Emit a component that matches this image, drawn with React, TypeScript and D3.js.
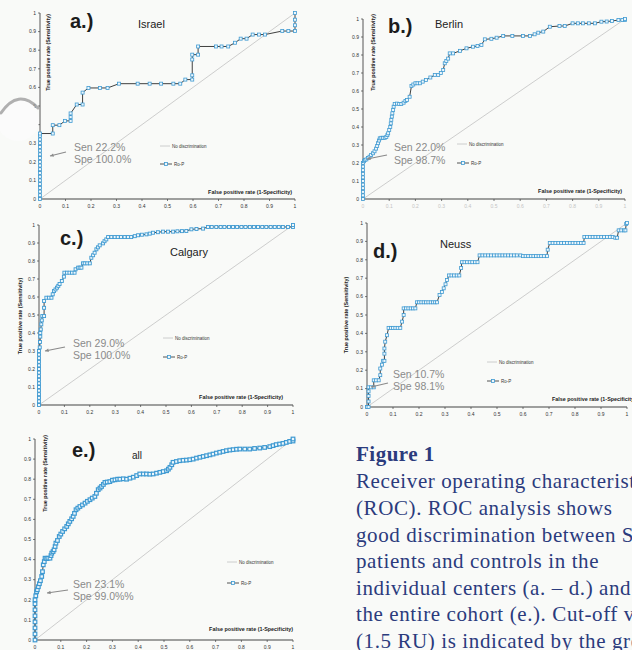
import React from "react";
import * as d3 from "d3";

// ---------- data ----------
const axisTicks = [0, 0.1, 0.2, 0.3, 0.4, 0.5, 0.6, 0.7, 0.8, 0.9, 1];
const axisTickLabels = ["0", "0.1", "0.2", "0.3", "0.4", "0.5", "0.6", "0.7", "0.8", "0.9", "1"];

const israelRoc: [number, number][] = [
  [0, 0], [0, 0.02], [0, 0.04], [0, 0.06], [0, 0.08], [0, 0.1], [0, 0.12], [0, 0.14], [0, 0.16], [0, 0.18],
  [0, 0.2], [0, 0.22], [0, 0.24], [0, 0.26], [0, 0.28], [0, 0.3], [0, 0.32], [0, 0.34], [0, 0.352],
  [0.05, 0.352], [0.05, 0.397], [0.076, 0.397], [0.098, 0.42], [0.12, 0.42], [0.12, 0.44], [0.12, 0.46],
  [0.144, 0.508], [0.167, 0.508], [0.167, 0.572], [0.19, 0.597], [0.235, 0.597], [0.265, 0.597], [0.31, 0.62],
  [0.383, 0.62], [0.43, 0.62], [0.475, 0.62], [0.523, 0.62], [0.55, 0.62], [0.57, 0.642], [0.597, 0.642],
  [0.597, 0.665], [0.597, 0.75], [0.597, 0.776], [0.62, 0.776], [0.62, 0.82], [0.69, 0.82], [0.712, 0.82],
  [0.738, 0.82], [0.765, 0.84], [0.787, 0.862], [0.81, 0.862], [0.834, 0.884], [0.859, 0.884], [0.882, 0.884],
  [0.95, 0.903], [0.974, 0.903], [1, 0.903], [1, 0.934], [1, 0.964], [1, 1],
];

const berlinRoc: [number, number][] = [
  [0, 0], [0, 0.02], [0, 0.04], [0, 0.06], [0, 0.08], [0, 0.1], [0, 0.12], [0, 0.14], [0, 0.16], [0, 0.18],
  [0, 0.2], [0.004, 0.21], [0.008, 0.217], [0.013, 0.22], [0.019, 0.228], [0.025, 0.235], [0.031, 0.245],
  [0.038, 0.254], [0.044, 0.265], [0.05, 0.28], [0.054, 0.295], [0.057, 0.31], [0.061, 0.325], [0.064, 0.337],
  [0.07, 0.34], [0.076, 0.34], [0.083, 0.34], [0.089, 0.345], [0.093, 0.355], [0.096, 0.365], [0.1, 0.383],
  [0.104, 0.4], [0.106, 0.42], [0.108, 0.44], [0.11, 0.458], [0.112, 0.476], [0.115, 0.495], [0.117, 0.513],
  [0.121, 0.528], [0.13, 0.53], [0.138, 0.528], [0.146, 0.528], [0.155, 0.535], [0.162, 0.545], [0.168, 0.55],
  [0.178, 0.568], [0.185, 0.628], [0.192, 0.636], [0.2, 0.643], [0.208, 0.643], [0.217, 0.643], [0.228, 0.652],
  [0.24, 0.661], [0.257, 0.675], [0.274, 0.689], [0.287, 0.689], [0.297, 0.7], [0.306, 0.717], [0.312, 0.754],
  [0.318, 0.767], [0.325, 0.78], [0.331, 0.809], [0.344, 0.809], [0.37, 0.823], [0.395, 0.837], [0.42, 0.846],
  [0.437, 0.85], [0.452, 0.856], [0.465, 0.887], [0.49, 0.89], [0.51, 0.896], [0.535, 0.906], [0.57, 0.906],
  [0.611, 0.906], [0.637, 0.906], [0.655, 0.915], [0.669, 0.924], [0.688, 0.93], [0.713, 0.957], [0.75, 0.961],
  [0.77, 0.961], [0.8, 0.976], [0.82, 0.976], [0.84, 0.976], [0.862, 0.976], [0.885, 0.976], [0.91, 0.985],
  [0.93, 0.986], [0.95, 0.989], [0.975, 0.994], [0.99, 0.994], [1, 0.994], [1, 1],
];

const calgaryRoc: [number, number][] = [
  [0, 0], [0, 0.02], [0, 0.04], [0, 0.06], [0, 0.08], [0, 0.1], [0, 0.12], [0, 0.14], [0, 0.16], [0, 0.18],
  [0, 0.2], [0, 0.22], [0, 0.24], [0, 0.26], [0, 0.28], [0, 0.3], [0.003, 0.32], [0.004, 0.35], [0.005, 0.38],
  [0.005, 0.4], [0.007, 0.42], [0.009, 0.448], [0.011, 0.47], [0.013, 0.494], [0.02, 0.494], [0.02, 0.54],
  [0.02, 0.578], [0.029, 0.596], [0.039, 0.596], [0.049, 0.596], [0.054, 0.615], [0.059, 0.633], [0.065, 0.642],
  [0.071, 0.652], [0.076, 0.662], [0.081, 0.672], [0.09, 0.689], [0.098, 0.713], [0.1, 0.735], [0.11, 0.735],
  [0.12, 0.735], [0.13, 0.735], [0.14, 0.735], [0.144, 0.754], [0.154, 0.763], [0.16, 0.763], [0.167, 0.763],
  [0.173, 0.787], [0.18, 0.787], [0.19, 0.787], [0.2, 0.787], [0.206, 0.818], [0.213, 0.832], [0.219, 0.846],
  [0.226, 0.865], [0.232, 0.876], [0.239, 0.887], [0.252, 0.898], [0.258, 0.91], [0.265, 0.92], [0.272, 0.933],
  [0.285, 0.933], [0.298, 0.933], [0.31, 0.933], [0.323, 0.933], [0.337, 0.933], [0.35, 0.933], [0.363, 0.933],
  [0.377, 0.938], [0.39, 0.943], [0.405, 0.946], [0.423, 0.948], [0.436, 0.952], [0.449, 0.957], [0.468, 0.96],
  [0.488, 0.963], [0.508, 0.963], [0.528, 0.963], [0.545, 0.965], [0.563, 0.966], [0.58, 0.967], [0.6, 0.976],
  [0.62, 0.978], [0.646, 0.98], [0.665, 0.989], [0.68, 0.989], [0.698, 0.989], [0.715, 0.989], [0.73, 0.989],
  [0.748, 0.989], [0.764, 0.989], [0.78, 0.989], [0.797, 0.989], [0.813, 0.989], [0.83, 0.989], [0.846, 0.989],
  [0.862, 0.989], [0.879, 0.989], [0.895, 0.989], [0.912, 0.989], [0.928, 0.989], [0.944, 0.989], [0.96, 0.989],
  [0.98, 0.989], [1, 0.989], [1, 1],
];

const neussRoc: [number, number][] = [
  [0, 0], [0.006, 0], [0.006, 0.03], [0.006, 0.06], [0.006, 0.085], [0.006, 0.107], [0.015, 0.107], [0.026, 0.107],
  [0.026, 0.145], [0.035, 0.145], [0.045, 0.145], [0.051, 0.173], [0.051, 0.209], [0.058, 0.23], [0.062, 0.251],
  [0.067, 0.251], [0.067, 0.29], [0.067, 0.318], [0.07, 0.355], [0.077, 0.39], [0.083, 0.43], [0.092, 0.43],
  [0.1, 0.43], [0.109, 0.43], [0.118, 0.43], [0.128, 0.43], [0.135, 0.464], [0.141, 0.5], [0.141, 0.536],
  [0.15, 0.536], [0.159, 0.536], [0.168, 0.536], [0.177, 0.536], [0.186, 0.536], [0.192, 0.569], [0.2, 0.569],
  [0.209, 0.569], [0.218, 0.569], [0.227, 0.569], [0.236, 0.569], [0.245, 0.569], [0.254, 0.569], [0.262, 0.569],
  [0.269, 0.569], [0.279, 0.609], [0.288, 0.625], [0.295, 0.645], [0.302, 0.667], [0.308, 0.69], [0.315, 0.715],
  [0.325, 0.715], [0.335, 0.715], [0.345, 0.715], [0.355, 0.715], [0.362, 0.755], [0.365, 0.787], [0.375, 0.787],
  [0.385, 0.787], [0.395, 0.787], [0.405, 0.787], [0.415, 0.787], [0.425, 0.787], [0.433, 0.824], [0.444, 0.824],
  [0.455, 0.824], [0.466, 0.824], [0.477, 0.824], [0.488, 0.824], [0.499, 0.824], [0.51, 0.824], [0.521, 0.824],
  [0.532, 0.824], [0.543, 0.824], [0.554, 0.824], [0.565, 0.824], [0.576, 0.824], [0.59, 0.824], [0.6, 0.82],
  [0.61, 0.82], [0.62, 0.82], [0.63, 0.82], [0.64, 0.82], [0.65, 0.82], [0.66, 0.82], [0.67, 0.82], [0.68, 0.82],
  [0.692, 0.82], [0.695, 0.855], [0.703, 0.891], [0.714, 0.891], [0.725, 0.891], [0.736, 0.891], [0.747, 0.891],
  [0.758, 0.891], [0.769, 0.891], [0.78, 0.891], [0.791, 0.891], [0.802, 0.891], [0.813, 0.891], [0.823, 0.891],
  [0.833, 0.891], [0.836, 0.924], [0.846, 0.924], [0.857, 0.924], [0.868, 0.924], [0.879, 0.924], [0.89, 0.924],
  [0.901, 0.924], [0.912, 0.924], [0.923, 0.924], [0.934, 0.924], [0.945, 0.924], [0.955, 0.92], [0.962, 0.92],
  [0.968, 0.96], [0.978, 0.96], [0.988, 0.96], [0.994, 0.96], [0.997, 0.995], [1, 1],
];

const allRoc: [number, number][] = [
  [0, 0], [0, 0.03], [0, 0.06], [0, 0.09], [0, 0.12], [0, 0.15], [0, 0.18], [0, 0.2], [0.003, 0.22], [0.006, 0.24],
  [0.009, 0.25], [0.013, 0.265], [0.017, 0.28], [0.021, 0.295], [0.026, 0.316], [0.029, 0.34], [0.032, 0.374],
  [0.036, 0.39], [0.039, 0.407], [0.045, 0.405], [0.05, 0.407], [0.058, 0.407], [0.062, 0.42], [0.065, 0.432],
  [0.07, 0.44], [0.074, 0.449], [0.078, 0.465], [0.081, 0.482], [0.087, 0.495], [0.094, 0.515], [0.1, 0.527],
  [0.107, 0.54], [0.115, 0.553], [0.123, 0.565], [0.129, 0.578], [0.135, 0.59], [0.142, 0.603], [0.148, 0.615],
  [0.153, 0.63], [0.159, 0.648], [0.166, 0.656], [0.174, 0.664], [0.184, 0.672], [0.194, 0.681], [0.203, 0.69],
  [0.213, 0.698], [0.222, 0.706], [0.232, 0.714], [0.238, 0.73], [0.245, 0.748], [0.252, 0.756], [0.258, 0.764],
  [0.265, 0.774], [0.271, 0.784], [0.28, 0.786], [0.29, 0.788], [0.3, 0.795], [0.31, 0.797], [0.32, 0.8],
  [0.329, 0.8], [0.342, 0.802], [0.355, 0.8], [0.368, 0.805], [0.381, 0.81], [0.394, 0.818], [0.406, 0.826],
  [0.42, 0.826], [0.432, 0.826], [0.445, 0.825], [0.458, 0.826], [0.471, 0.83], [0.484, 0.834], [0.497, 0.838],
  [0.51, 0.842], [0.517, 0.85], [0.523, 0.859], [0.53, 0.872], [0.535, 0.884], [0.548, 0.888], [0.561, 0.892],
  [0.574, 0.894], [0.587, 0.895], [0.6, 0.897], [0.613, 0.9], [0.626, 0.905], [0.639, 0.909], [0.652, 0.913],
  [0.665, 0.917], [0.678, 0.921], [0.69, 0.925], [0.703, 0.93], [0.716, 0.934], [0.729, 0.938], [0.742, 0.942],
  [0.755, 0.945], [0.768, 0.947], [0.781, 0.949], [0.794, 0.95], [0.813, 0.95], [0.832, 0.95], [0.851, 0.953],
  [0.871, 0.955], [0.89, 0.958], [0.91, 0.962], [0.923, 0.967], [0.935, 0.972], [0.948, 0.975], [0.961, 0.978],
  [0.974, 0.983], [0.987, 0.988], [1, 0.99], [1, 1],
];

const panelSeries = [israelRoc, berlinRoc, calgaryRoc, neussRoc, allRoc];
const panelLetters = ["a.)", "b.)", "c.)", "d.)", "e.)"];
const centerNames = ["Israel", "Berlin", "Calgary", "Neuss", "all"];
const sensitivityLabels = ["Sen 22.2%", "Sen 22.0%", "Sen 29.0%", "Sen 10.7%", "Sen 23.1%"];
const specificityLabels = ["Spe 100.0%", "Spe 98.7%", "Spe 100.0%", "Spe 98.1%", "Spe 99.0%%"];
const legendLabels = ["No discrimination", "Ro-P"];
const xAxisTitle = "False positive rate (1-Specificity)";
const yAxisTitle = "True positive rate (Sensitivity)";

const captionTitle = "Figure 1";
const captionLines = [
  "Receiver operating characteristic",
  "(ROC). ROC analysis shows",
  "good discrimination between SSc",
  "patients and controls in the",
  "individual centers (a. \u2013 d.) and",
  "the entire cohort (e.). Cut-off value",
  "(1.5 RU) is indicated by the grey",
];

// ---------- layout (positions / styles only) ----------
type Layout = {
  x0: number; x1: number; yTop: number; yBot: number;
  letter: [number, number]; name: [number, number]; nameSize: number;
  sen: [number, number]; spe: [number, number];
  arrow: [number, number, number, number];
  leg: [number, number, number];
  xTitle: [number, number, "start" | "end"];
  yTitle: [number, number, "end" | "middle"];
  tickColor: string;
  ms: number; msw: number;
};

const layouts: Layout[] = [
  { x0: 40, x1: 295, yTop: 13, yBot: 199, letter: [70, 28], name: [138, 28], nameSize: 11,
    sen: [74, 150.5], spe: [74, 163], arrow: [66, 152, 50, 156], leg: [160, 146, 164],
    xTitle: [292, 194, "end"], yTitle: [50, 14, "end"], tickColor: "#333", ms: 3, msw: 0.8 },
  { x0: 363, x1: 625, yTop: 19, yBot: 199, letter: [388, 33], name: [435, 28], nameSize: 11,
    sen: [394, 150.5], spe: [394, 164], arrow: [387, 155, 367, 159], leg: [457, 144, 163],
    xTitle: [622, 193, "end"], yTitle: [375, 14, "end"], tickColor: "#c4c4c4", ms: 3, msw: 0.8 },
  { x0: 39, x1: 293, yTop: 225, yBot: 405, letter: [60, 245], name: [170, 256], nameSize: 11,
    sen: [73, 346.5], spe: [73, 359], arrow: [65, 347, 45, 351], leg: [163, 338, 357],
    xTitle: [283, 399, "end"], yTitle: [22, 316, "middle"], tickColor: "#333", ms: 3, msw: 0.9 },
  { x0: 367, x1: 627, yTop: 223, yBot: 407, letter: [373, 258], name: [440, 248], nameSize: 11,
    sen: [393, 377.5], spe: [393, 390], arrow: [388, 383, 371, 387], leg: [487, 362, 381],
    xTitle: [552, 401, "start"], yTitle: [348, 315, "middle"], tickColor: "#333", ms: 3, msw: 0.8 },
  { x0: 35, x1: 293, yTop: 439, yBot: 640, letter: [72, 457], name: [132, 459], nameSize: 10,
    sen: [73, 587.5], spe: [73, 600], arrow: [68, 590, 47, 593], leg: [227, 562, 583],
    xTitle: [293, 631, "end"], yTitle: [47, 435, "end"], tickColor: "#333", ms: 3.6, msw: 1.2 },
];

const SANS = "'Liberation Sans', Arial, sans-serif";
const SERIF = "'Liberation Serif', 'Times New Roman', serif";
const MARKER = "#3f9ad2";
const MARKER_FILL = "#eef7fc";

function Panel({ data, lay, i }: { data: [number, number][]; lay: Layout; i: number }) {
  const x = d3.scaleLinear().domain([0, 1]).range([lay.x0, lay.x1]);
  const y = d3.scaleLinear().domain([0, 1]).range([lay.yBot, lay.yTop]);
  const line = d3.line<[number, number]>().x((d) => x(d[0])).y((d) => y(d[1]));
  const ms = lay.ms;
  const [lx, ly1, ly2] = lay.leg;
  const [ax1, ay1, ax2, ay2] = lay.arrow;
  const ang = Math.atan2(ay2 - ay1, ax2 - ax1);
  const head = 4;
  return (
    <g>
      <line x1={x(0)} y1={y(0)} x2={x(1)} y2={y(1)} stroke="#c2c2c2" strokeWidth={0.8} />
      <line x1={lay.x0} y1={lay.yTop} x2={lay.x0} y2={lay.yBot} stroke="#444" strokeWidth={0.9} />
      <line x1={lay.x0} y1={lay.yBot} x2={lay.x1} y2={lay.yBot} stroke="#444" strokeWidth={1.1} />
      {axisTicks.map((t, k) => (
        <g key={"xt" + k}>
          <line x1={x(t)} x2={x(t)} y1={lay.yBot} y2={lay.yBot + 2} stroke="#444" strokeWidth={0.7} />
          <text x={x(t)} y={lay.yBot + 9} fontSize={5} fontFamily={SANS} fill={lay.tickColor} textAnchor="middle">
            {axisTickLabels[k]}
          </text>
        </g>
      ))}
      {axisTicks.map((t, k) => (
        <g key={"yt" + k}>
          <line x1={lay.x0 - 2} x2={lay.x0} y1={y(t)} y2={y(t)} stroke="#444" strokeWidth={0.7} />
          <text x={lay.x0 - 4} y={y(t) + 1.7} fontSize={5} fontFamily={SANS} fill="#333" textAnchor="end">
            {axisTickLabels[k]}
          </text>
        </g>
      ))}
      <text x={lay.xTitle[0]} y={lay.xTitle[1]} fontSize={5.4} fontWeight="bold" fontFamily={SANS} fill="#222"
        textAnchor={lay.xTitle[2]}>{xAxisTitle}</text>
      <text transform={`translate(${lay.yTitle[0]},${lay.yTitle[1]}) rotate(-90)`} fontSize={5.4} fontWeight="bold"
        fontFamily={SANS} fill="#222" textAnchor={lay.yTitle[2]}>{yAxisTitle}</text>
      <path d={line(data) || ""} fill="none" stroke="#2a2a2a" strokeWidth={0.9} />
      {data.map((d, k) => (
        <rect key={k} x={x(d[0]) - ms / 2} y={y(d[1]) - ms / 2} width={ms} height={ms}
          fill={MARKER_FILL} stroke={MARKER} strokeWidth={lay.msw} />
      ))}
      <text x={lay.letter[0]} y={lay.letter[1]} fontSize={20} fontWeight="bold" fontFamily={SANS} fill="#1c1c1c">
        {panelLetters[i]}
      </text>
      <text x={lay.name[0]} y={lay.name[1]} fontSize={lay.nameSize} fontFamily={SANS} fill="#222">
        {centerNames[i]}
      </text>
      <text x={lay.sen[0]} y={lay.sen[1]} fontSize={10.5} fontFamily={SANS} fill="#8a8a8a">{sensitivityLabels[i]}</text>
      <text x={lay.spe[0]} y={lay.spe[1]} fontSize={10.5} fontFamily={SANS} fill="#8a8a8a">{specificityLabels[i]}</text>
      <line x1={ax1} y1={ay1} x2={ax2} y2={ay2} stroke="#8a8a8a" strokeWidth={1.2} />
      <path
        d={`M${ax2},${ay2} L${ax2 - head * Math.cos(ang - 0.45)},${ay2 - head * Math.sin(ang - 0.45)} L${ax2 - head * Math.cos(ang + 0.45)},${ay2 - head * Math.sin(ang + 0.45)} Z`}
        fill="#8a8a8a" />
      <line x1={lx} x2={lx + 10} y1={ly1} y2={ly1} stroke="#c2c2c2" strokeWidth={0.8} />
      <text x={lx + 12} y={ly1 + 1.5} fontSize={4.5} fontFamily={SANS} fill="#333">{legendLabels[0]}</text>
      <line x1={lx} x2={lx + 12} y1={ly2} y2={ly2} stroke="#2a2a2a" strokeWidth={0.8} />
      <rect x={lx + 6 - 1.5} y={ly2 - 1.5} width={3} height={3} fill={MARKER_FILL} stroke={MARKER} strokeWidth={0.8} />
      <text x={lx + 14} y={ly2 + 1.5} fontSize={4.5} fontFamily={SANS} fill="#333">{legendLabels[1]}</text>
    </g>
  );
}

export default function App() {
  return (
    <svg width={632} height={650} style={{ position: "absolute", left: 0, top: 0, background: "#f9faf8" }}>
      <rect x={0} y={0} width={632} height={650} fill="#f9faf8" />
      {panelSeries.map((data, i) => (
        <Panel key={i} data={data} lay={layouts[i]} i={i} />
      ))}
      <circle cx={18} cy={120} r={21} fill="#fbfbfb" />
      <path d="M1,113 Q18,88 38,108" fill="none" stroke="#9d9d9d" strokeWidth={3} strokeLinecap="round" opacity={0.8} />
      <text x={356} y={461} fontSize={21} fontWeight="bold" fontFamily={SERIF} fill="#2b3b7d" letterSpacing={0.5}>
        {captionTitle}
      </text>
      {captionLines.map((t, k) => (
        <text key={k} x={356} y={488.3 + k * 26.6} fontSize={21} fontFamily={SERIF} fill="#2b3b7d" letterSpacing={0.6}>
          {t}
        </text>
      ))}
    </svg>
  );
}
